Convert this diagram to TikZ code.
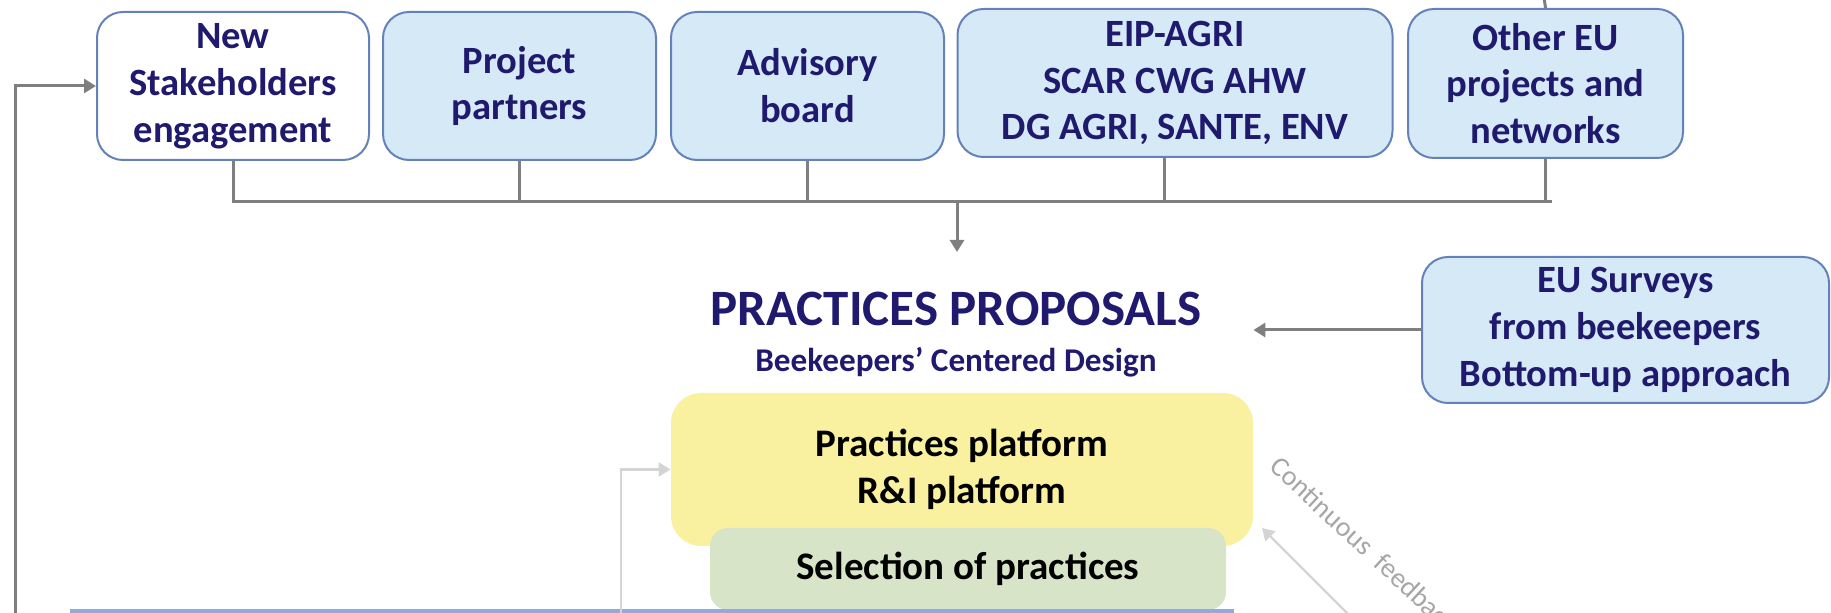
\documentclass[tikz,border=0pt]{standalone}
\usepackage{fontspec}
\setmainfont{Carlito}
\usetikzlibrary{arrows.meta}
\definecolor{navy}{RGB}{32,26,110}
\definecolor{boxfill}{RGB}{214,233,246}
\definecolor{boxline}{RGB}{100,130,185}
\definecolor{conngray}{RGB}{127,127,127}
\definecolor{lgray}{RGB}{212,212,212}
\definecolor{yel}{RGB}{249,241,160}
\definecolor{grn}{RGB}{216,228,199}
\definecolor{bluel}{RGB}{143,170,220}
\definecolor{fbtext}{RGB}{166,166,166}
\begin{document}
\begin{tikzpicture}[x=0.5pt,y=-0.5pt,
  box/.style={draw=boxline, line width=1pt, fill=boxfill, rounded corners=13pt,
    text=navy, align=center, inner sep=0pt,
    font=\bfseries\fontsize{19.3}{23.4}\selectfont},
  plat/.style={fill=yel, rounded corners=15pt, align=center, inner sep=0pt,
    font=\bfseries\fontsize{19.5}{23.5}\selectfont},
  selbox/.style={fill=grn, rounded corners=9pt, align=center, inner sep=0pt,
    font=\bfseries\fontsize{19.5}{23.5}\selectfont},
  conn/.style={draw=conngray, line width=1.5pt},
  arr/.style={conn, -{Triangle[length=6pt,width=7pt]}},
  larr/.style={draw=lgray, line width=1.2pt, -{Triangle[length=6pt,width=7pt]}},
  ttl/.style={text=navy, inner sep=0pt, font=\bfseries\fontsize{25.5}{30}\selectfont},
  subttl/.style={text=navy, inner sep=0pt, font=\bfseries\fontsize{16.6}{20}\selectfont},
  fbstyle/.style={text=fbtext, inner sep=0pt, font=\fontsize{14}{17}\selectfont}
]
\useasboundingbox (0,0) rectangle (1831,613);
\clip (0,0) rectangle (1831,613);

% top boxes
\node[box, fill=white, minimum width=136pt, minimum height=74pt] (b1) at (233,86)
  {New\\Stakeholders\\engagement};
\node[box, minimum width=136.5pt, minimum height=74pt] (b2) at (519.5,86)
  {Project\\partners};
\node[box, minimum width=136.5pt, minimum height=74pt] (b3) at (807.5,86)
  {Advisory\\board};
\node[box, minimum width=217.5pt, minimum height=74pt] (b4) at (1175,83)
  {EIP-AGRI\\SCAR CWG AHW\\DG AGRI, SANTE, ENV};
\node[box, minimum width=137.5pt, minimum height=74.5pt] (b5) at (1545.5,83.5)
  {Other EU\\projects and\\networks};

% right box
\node[box, minimum width=203.5pt, minimum height=73pt] (eu) at (1625.5,330)
  {EU Surveys\\from beekeepers\\Bottom-up approach};

% titles
\node[ttl, anchor=base] (title) at (956,326) {PRACTICES PROPOSALS};
\node[subttl, anchor=base] (sub) at (956,372) {Beekeepers’ Centered Design};

% platforms
\node[plat, minimum width=291pt, minimum height=76.5pt] (yb) at (962,469.5)
  {Practices platform\\R\&I platform};
\node[selbox, minimum width=258pt, minimum height=41pt] (gb) at (968,569)
  {Selection of practices};

% bottom blue edge
\draw[bluel, line width=2pt] (70,611) -- (1234,611);

% coordinates
\coordinate (busR) at (1552,202);
\coordinate (busM) at (957,202);
\coordinate (tipD) at (957,252);
\coordinate (lstart) at (15,640);
\coordinate (gstart) at (621,640);
\coordinate (fbstart) at (1400,666);
\coordinate (fbend) at (1262,528);
\coordinate (topend) at (1543,-10);

% bus
\draw[conn] (b1.south) |- (busR);
\draw[conn] (b2.south) -- (b2.south |- busR);
\draw[conn] (b3.south) -- (b3.south |- busR);
\draw[conn] ([xshift=-5.5pt]b4.south) -- ([xshift=-5.5pt]b4.south |- busR);
\draw[conn] (b5.south) -- (b5.south |- busR);
\draw[conn] (b5.north) -- (topend);
\draw[arr] (busM) -- (tipD);

% EU survey arrow
\draw[arr] (eu.west) -- (eu.west -| yb.east);

% left feedback
\draw[arr] (lstart) |- (b1.west);
\draw[larr] (gstart) |- (yb.west);

% continuous feedback
\draw[larr] (fbstart) -- (fbend);
\node[fbstyle, rotate=-43, anchor=base west] (fb) at (1268,468) {Continuous\ \ feedback};
\end{tikzpicture}
\end{document}
